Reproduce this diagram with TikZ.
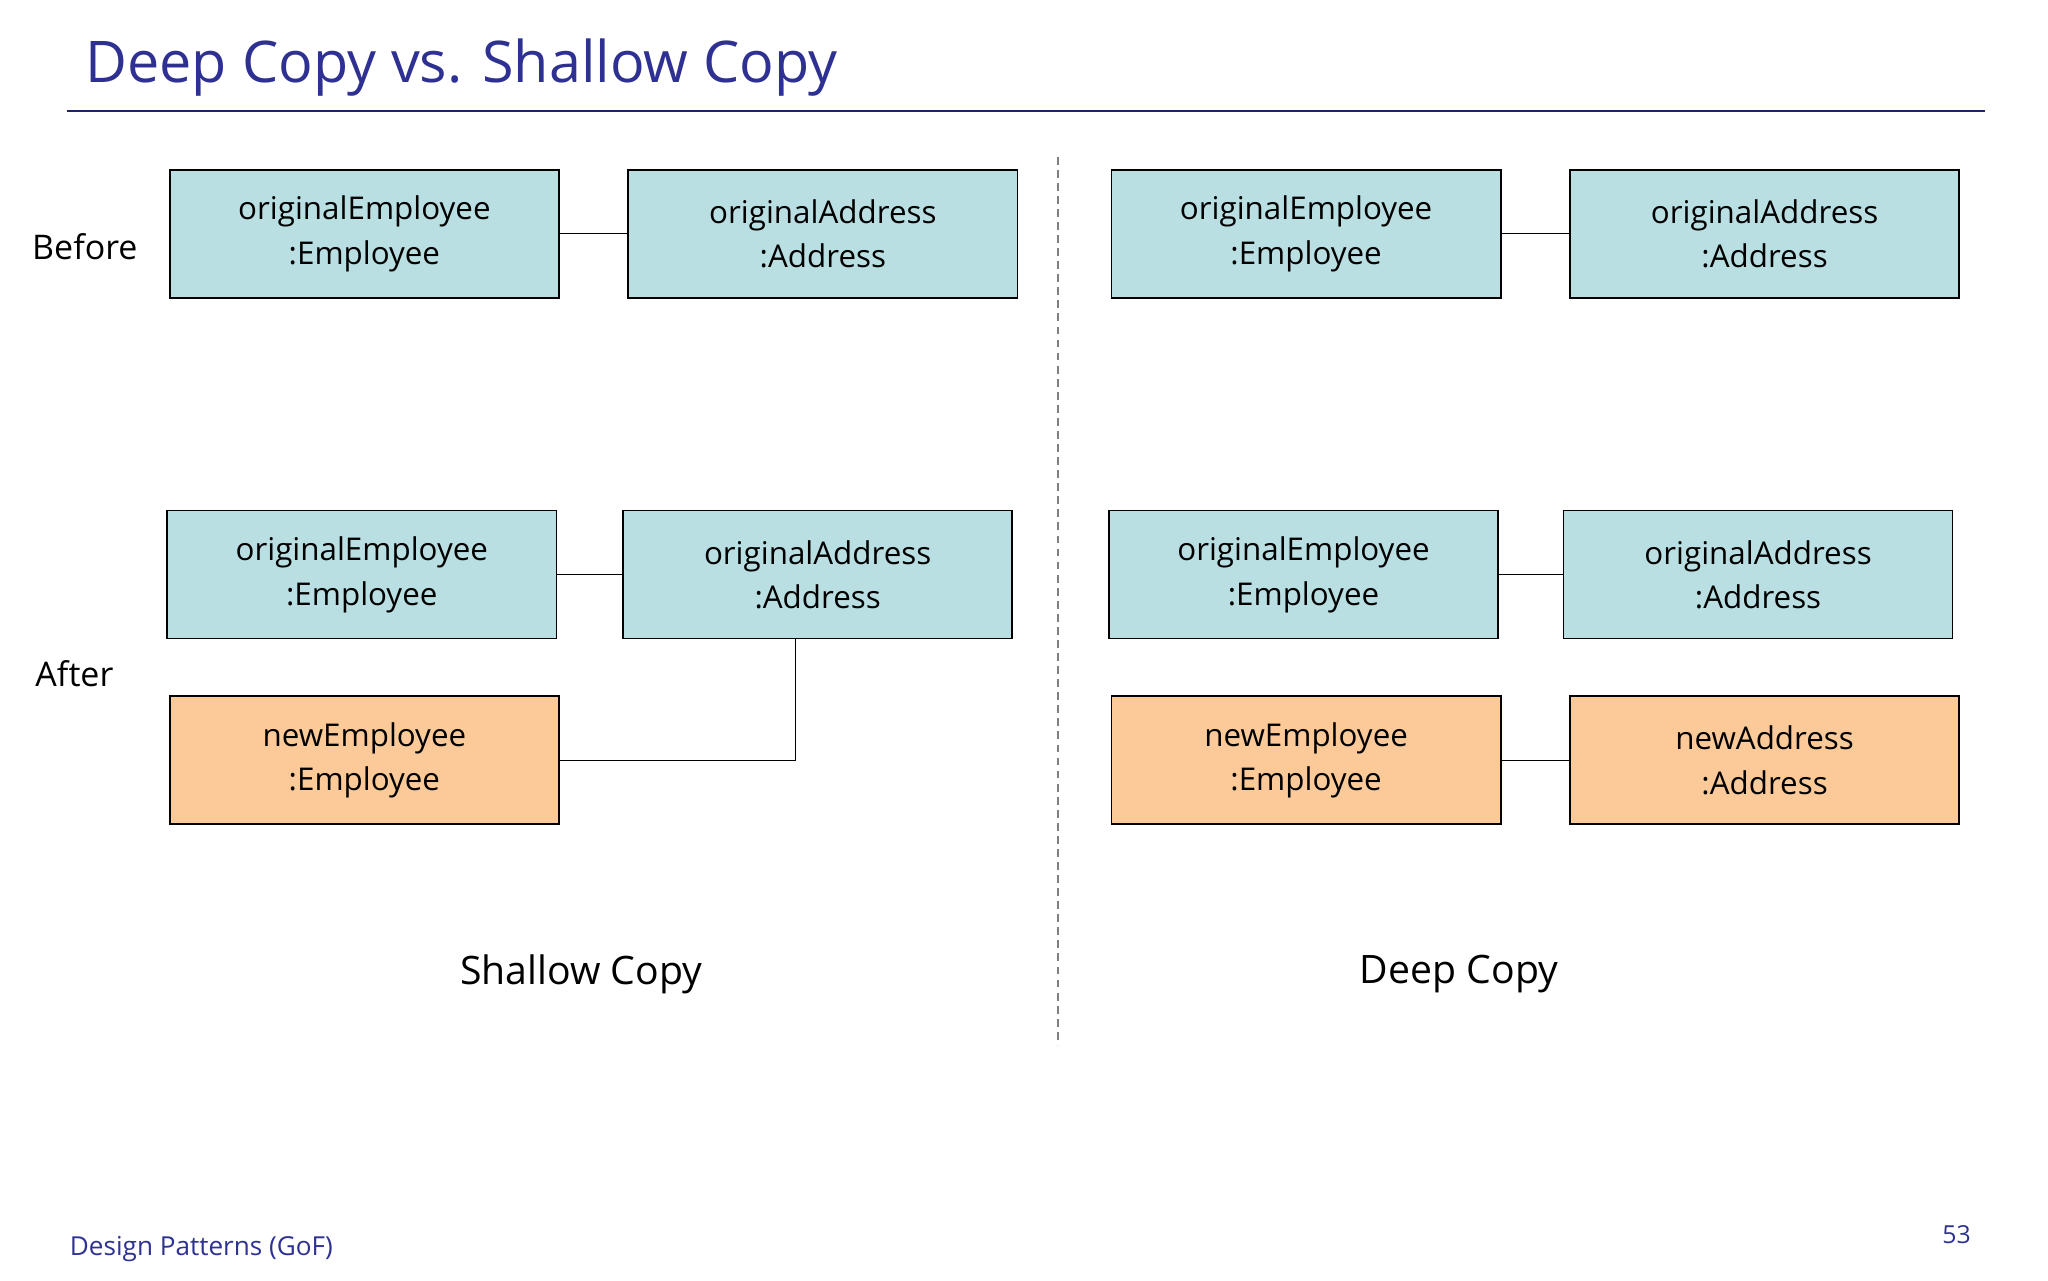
\documentclass[tikz,border=0pt]{standalone}
\usepackage{fontspec}
\setmainfont{Open Sans}
\definecolor{teal}{HTML}{B9DFE3}
\definecolor{orng}{HTML}{FCCA98}
\definecolor{ttl}{HTML}{2E3192}
\begin{document}
\begin{tikzpicture}[x=1pt,y=-1pt,
 obj/.style={draw=black,line width=1.2pt,minimum width=298pt,minimum height=98pt,align=center,font=\fontsize{24}{34}\selectfont,inner sep=0pt},
 old/.style={obj,fill=teal}, nw/.style={obj,fill=orng},
 lnk/.style={line width=1pt}]
\useasboundingbox (0,0) rectangle (1568,980);
\node[anchor=base west,text=ttl,font=\fontsize{44}{50}\selectfont] (title) at (62,63) {Deep Copy vs. Shallow Copy};
\draw[ttl!70!black,line width=1.5pt] (51,85) coordinate (t1) -- (1520,85) coordinate (t2);
\draw[gray,dashed,line width=1pt,dash pattern=on 6pt off 4pt] (810,120) coordinate (d1) -- (810,800) coordinate (d2);
\node[font=\fontsize{26}{30}\selectfont] (before) at (65,189) {Before};
\node[font=\fontsize{26}{30}\selectfont] (after) at (57,516) {After};
% before
\node[old] (a1) at (279,179) {originalEmployee\\:Employee};
\node[old] (a2) at (630,179) {originalAddress\\:Address};
\node[old] (a3) at (1000,179) {originalEmployee\\:Employee};
\node[old] (a4) at (1351,179) {originalAddress\\:Address};
\draw[lnk] (a1) -- (a2); \draw[lnk] (a3) -- (a4);
% after shallow
\node[old] (b1) at (277,440) {originalEmployee\\:Employee};
\node[old] (b2) at (626,440) {originalAddress\\:Address};
\node[nw] (b3) at (279,582) {newEmployee\\:Employee};
\draw[lnk] (b1) -- (b2);
\draw[lnk] (b3.east) -- (609,582) -- (609,440|-b2.south);
% after deep
\node[old] (c1) at (998,440) {originalEmployee\\:Employee};
\node[old] (c2) at (1346,440) {originalAddress\\:Address};
\node[nw] (c3) at (1000,582) {newEmployee\\:Employee};
\node[nw] (c4) at (1351,582) {newAddress\\:Address};
\draw[lnk] (c1) -- (c2); \draw[lnk] (c3) -- (c4);
\node[font=\fontsize{30}{34}\selectfont] (sc) at (445,746) {Shallow Copy};
\node[font=\fontsize{30}{34}\selectfont] (dc) at (1117,746) {Deep Copy};
\node[anchor=west,text=ttl,font=\fontsize{20}{24}\selectfont] (foot) at (50,956) {Design Patterns (GoF)};
\node[text=ttl,font=\fontsize{19}{22}\selectfont] (pg) at (1498,945) {53};
\end{tikzpicture}
\end{document}
